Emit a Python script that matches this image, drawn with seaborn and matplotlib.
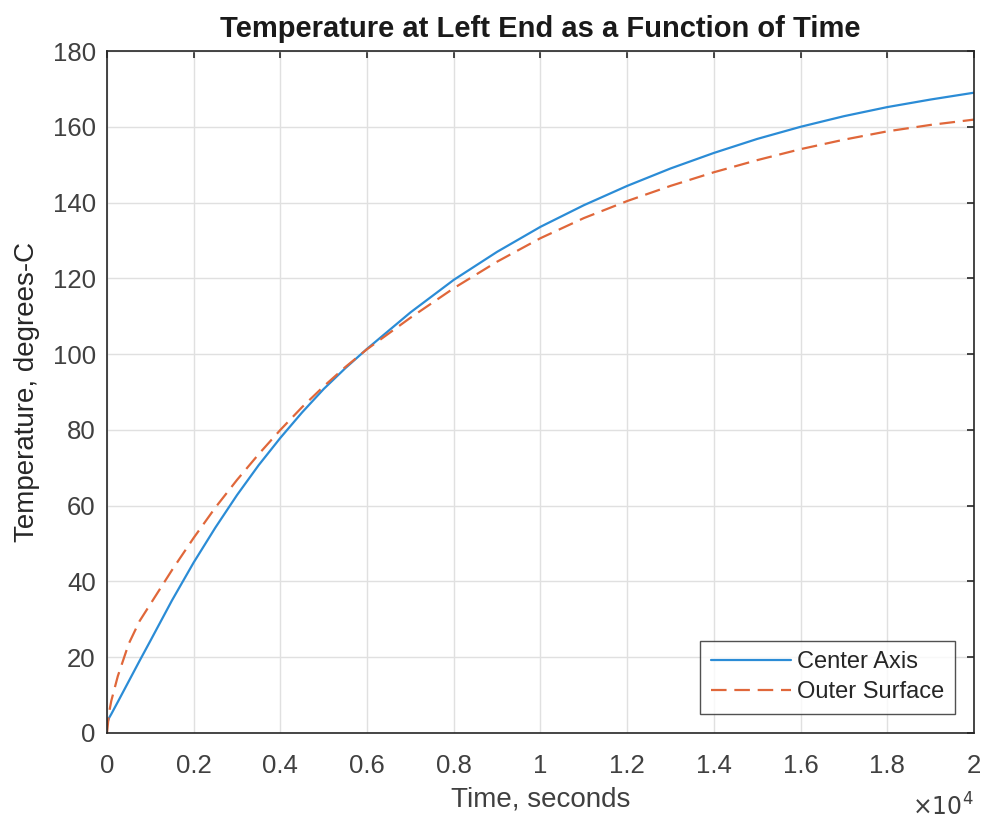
import pandas as pd
import seaborn as sns
import matplotlib.pyplot as plt
from matplotlib.ticker import FuncFormatter

# values (time in seconds, temperature in degrees C)
time_s = [0, 50, 100, 250, 500, 750, 1000, 1500, 2000, 2500, 3000, 3500, 4000,
          4500, 5000, 5500, 6000, 7000, 8000, 9000, 10000, 11000, 12000, 13000,
          14000, 15000, 16000, 17000, 18000, 19000, 20000]
center_axis = [2.5, 4.0, 5.0, 8.2, 13.6, 19.0, 24.3, 35.0, 45.0, 54.2, 62.8, 70.7, 77.9,
               84.6, 90.8, 96.3, 101.4, 111.0, 119.6, 127.0, 133.6, 139.3, 144.4, 149.0,
               153.1, 156.8, 160.0, 162.8, 165.2, 167.2, 169.0]
outer_surface = [0.0, 5.5, 8.5, 15.0, 23.5, 29.5, 34.0, 43.0, 51.5, 59.5, 66.8, 73.6, 80.0,
                 86.0, 91.5, 96.6, 101.3, 109.6, 117.4, 124.4, 130.6, 135.9, 140.4, 144.4,
                 148.0, 151.2, 154.1, 156.6, 158.8, 160.5, 161.9]
series_names = ["Center Axis", "Outer Surface"]
x_ticks = [0, 2000, 4000, 6000, 8000, 10000, 12000, 14000, 16000, 18000, 20000]
y_ticks = [0, 20, 40, 60, 80, 100, 120, 140, 160, 180]

df = pd.DataFrame({"Time": time_s, series_names[0]: center_axis,
                   series_names[1]: outer_surface})

sns.set_style("white")
plt.rcParams['font.family'] = ['Liberation Sans', 'DejaVu Sans']

fig = plt.figure(figsize=(9.86, 8.23), dpi=100)
ax = fig.add_axes([0.1085, 0.1094, 0.8793, 0.8286])

sns.lineplot(data=df, x="Time", y=series_names[0], ax=ax, color="#2b8cd6",
             linewidth=1.6, label=series_names[0])
sns.lineplot(data=df, x="Time", y=series_names[1], ax=ax, color="#e0673a",
             linewidth=1.6, linestyle=(0, (7, 3.5)), label=series_names[1])

ax.set_xlim(0, 20000)
ax.set_ylim(0, 180)
ax.set_xticks(x_ticks)
ax.set_yticks(y_ticks)
ax.xaxis.set_major_formatter(FuncFormatter(lambda v, p: "%g" % (v / 1e4)))
ax.grid(True, color="#e0e0e0", linewidth=1.0)
ax.set_axisbelow(True)

for s in ax.spines.values():
    s.set_color("#262626")
    s.set_linewidth(1.2)
ax.tick_params(direction="in", length=5, width=1.2, color="#262626",
               top=True, right=True, labelsize=18.5, labelcolor="#404040")
ax.tick_params(axis="x", pad=15)
ax.tick_params(axis="y", pad=8)

ax.set_xlabel("Time, seconds", fontsize=20, color="#404040", labelpad=6)
ax.set_ylabel("Temperature, degrees-C", fontsize=20, color="#262626", labelpad=9)
ax.set_title("Temperature at Left End as a Function of Time", fontsize=21,
             fontweight="bold", color="#1a1a1a", pad=10)
ax.text(1.0, -0.088, r"$\times10^{4}$", transform=ax.transAxes, ha="right",
        va="top", fontsize=17, color="#404040")

leg = ax.legend(loc="lower right", fontsize=17, frameon=True, fancybox=False,
                handlelength=3.4, borderaxespad=0.8, borderpad=0.45,
                labelspacing=0.35, handletextpad=0.25)
leg.get_frame().set_edgecolor("#262626")
leg.get_frame().set_linewidth(1.0)
for t in leg.get_texts():
    t.set_color("#262626")

fig.savefig("out.png", dpi=100)
